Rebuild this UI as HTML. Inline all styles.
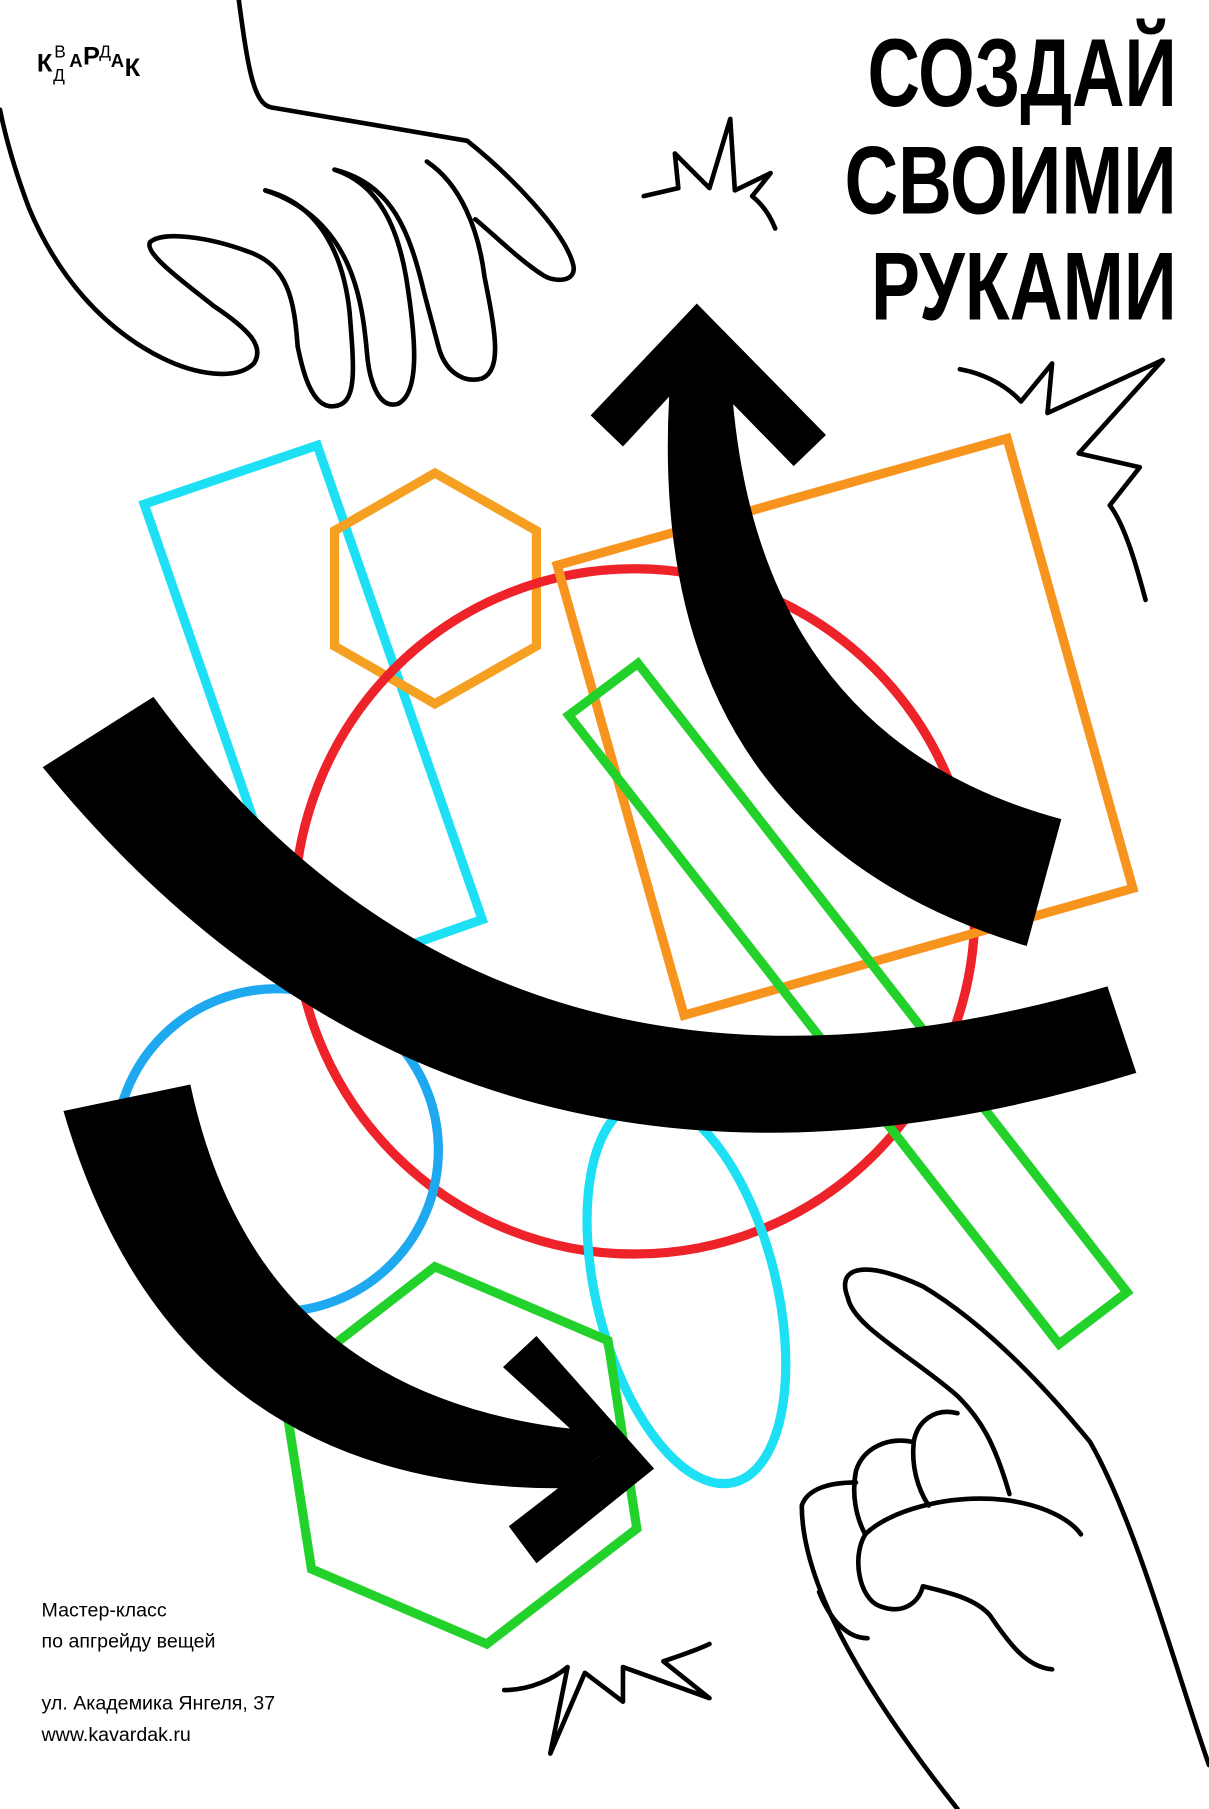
<!DOCTYPE html>
<html><head><meta charset="utf-8"><style>
html,body{margin:0;padding:0;background:#fff;width:1209px;height:1809px;overflow:hidden}
svg{display:block}
text{font-family:"Liberation Sans Narrow","Liberation Sans",sans-serif}
</style></head><body>
<svg width="1209" height="1809" viewBox="0 0 1048 1568" xmlns="http://www.w3.org/2000/svg">
<rect width="1048" height="1568" fill="#fff"/>
<g fill="none" stroke-width="8" stroke-linejoin="miter">
<polygon points="125,437 275,386 418,797 268,850" stroke="#1ee0f5"/>
<polygon points="377,410 465,460 465,560 377,610 290,560 290,460" stroke="#f5a020"/>
<ellipse cx="550" cy="790" rx="295" ry="297" stroke="#ee2229"/>
<polygon points="483,490 873,380 982,770 593,880" stroke="#f7941d"/>
<polygon points="493,620 553,575 977,1120 918,1165" stroke="#22d22a"/>
<circle cx="240" cy="997" r="140" stroke="#1ea8f0"/>
<ellipse cx="595" cy="1120" rx="78" ry="170" transform="rotate(-14 595 1120)" stroke="#1ee0f5"/>
<polygon points="377,1098 527,1162 552,1325 422,1425 270,1360 245,1200" stroke="#22d22a"/>
</g>
<g fill="#000">
<path d="M133,604 Q430,1010 960,855 L985,930 Q400,1110 37,665 Z"/>
<path d="M580,345 L580,330 L604,316 L635,330 L635,345 Q660,640 920,710 L890,820 Q560,720 580,345 Z"/>
<polygon points="512,360 604,263 716,377 688,404 604,318 540,387"/>
<path d="M55,963 Q150,1290 485,1290 L520,1262 L510,1240 L483,1237 Q220,1200 165,940 Z"/>
<polygon points="436,1185 465,1158 567,1273 465,1355 441,1323 520,1262"/>
</g>
<g fill="none" stroke="#000" stroke-width="4" stroke-linecap="round" stroke-linejoin="round">
<g>
<path d="M207,0 C215,60 220,90 235,93 L405,122 C440,150 490,200 497,230 C500,245 480,245 470,238 C450,225 430,205 412,190"/>
<path d="M370,140 C400,160 415,200 420,240 C430,290 435,320 418,328 C400,333 385,320 380,300 L368,255 C355,200 340,160 290,147"/>
<path d="M290,147 C330,160 345,200 352,240 C360,290 365,340 345,350 C328,355 320,330 318,305 C314,260 305,190 230,165"/>
<path d="M230,165 C280,178 298,225 303,270 C307,320 310,350 290,352 C270,355 262,320 258,300"/>
<path d="M258,300 C255,260 250,230 215,218 C180,205 140,200 130,210 C125,220 160,245 185,265 C215,285 230,300 220,315 C205,330 170,325 140,310 C90,285 50,240 25,180 C10,140 3,110 0,95"/>
</g>
<g>
<path d="M735,1125 C725,1100 745,1090 800,1115 C850,1145 900,1195 945,1250 C985,1320 1020,1450 1048,1530"/>
<path d="M735,1125 C740,1150 790,1175 830,1210 C850,1230 862,1250 875,1295"/>
<path d="M830,1225 C810,1220 795,1232 792,1250 C790,1270 795,1290 805,1305"/>
<path d="M792,1250 C770,1245 748,1255 742,1275 C738,1295 742,1315 750,1330"/>
<path d="M742,1285 C720,1285 700,1290 695,1305 C695,1380 760,1480 830,1568"/>
<path d="M750,1330 C770,1310 820,1295 870,1300 C910,1305 930,1320 937,1330"/>
<path d="M750,1330 C738,1350 745,1385 762,1392 C782,1400 796,1390 800,1375 C820,1380 845,1385 858,1400 C875,1425 890,1445 912,1447"/>
<path d="M710,1380 C720,1405 735,1420 752,1420"/>
</g>
<polyline points="558,170 588,163 585,133 615,163 633,103 637,165 668,150 652,170" />
<path d="M652,170 C662,178 668,188 672,198"/>
<path d="M832,320 C860,325 878,340 885,348 L912,315 L908,358 L1008,312 L935,393 L988,405 L962,438 C975,455 985,490 993,520"/>
<path d="M437,1465 C460,1465 480,1455 492,1445 L477,1520 L507,1450 L540,1475 L540,1445 L615,1472 L575,1440 C590,1435 605,1430 615,1425"/>
</g>
<g font-weight="bold" font-size="22" fill="#000">
<text x="32" y="62">К</text><text x="47" y="50" font-size="15" font-weight="normal">В</text><text x="46" y="70" font-size="15" font-weight="normal">Д</text><text x="60" y="58" font-size="16">А</text><text x="72" y="56">Р</text><text x="86" y="50" font-size="15" font-weight="normal">Д</text><text x="96" y="58" font-size="16">А</text><text x="108" y="66">К</text>
</g>
<g font-weight="bold" font-size="84" fill="#000" text-anchor="end">
<text x="1020" y="92" textLength="268" lengthAdjust="spacingAndGlyphs">СОЗДАЙ</text>
<text x="1020" y="185" textLength="288" lengthAdjust="spacingAndGlyphs">СВОИМИ</text>
<text x="1020" y="277" textLength="265" lengthAdjust="spacingAndGlyphs">РУКАМИ</text>
</g>
<g font-size="17" fill="#000">
<text x="36" y="1401">Мастер-класс</text>
<text x="36" y="1428">по апгрейду вещей</text>
<text x="36" y="1482">ул. Академика Янгеля, 37</text>
<text x="36" y="1509">www.kavardak.ru</text>
</g>
</svg>
</body></html>
